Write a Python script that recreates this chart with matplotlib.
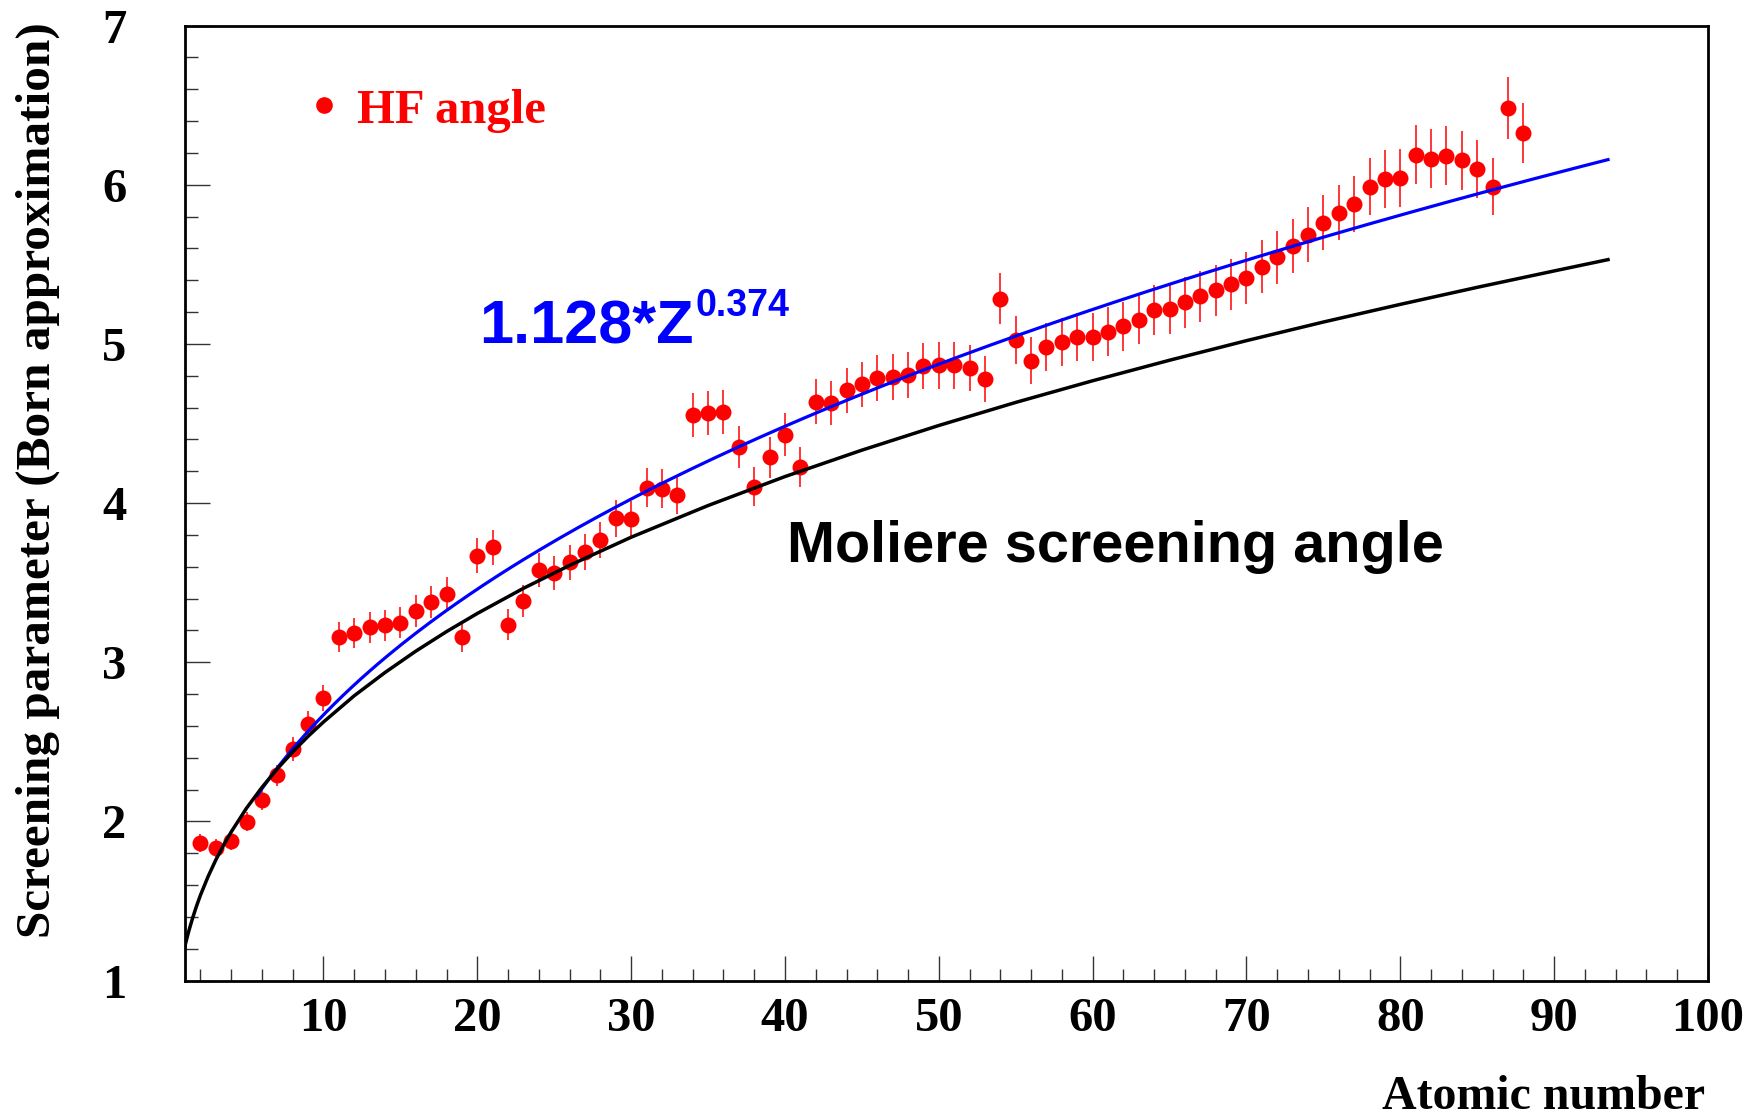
import numpy as np
import matplotlib
matplotlib.use('Agg')
import matplotlib.pyplot as plt
from matplotlib.ticker import MultipleLocator

W, H = 1759, 1120

# HF screening parameter vs atomic number
z = np.arange(1, 89)
hf = [1.10, 1.862, 1.831, 1.879, 1.998, 2.135, 2.288, 2.454, 2.613, 2.775,
      3.160, 3.182, 3.218, 3.231, 3.249, 3.320, 3.376, 3.430, 3.160, 3.668,
      3.721, 3.234, 3.384, 3.578, 3.559, 3.628, 3.692, 3.770, 3.903, 3.897,
      4.097, 4.090, 4.052, 4.553, 4.564, 4.572, 4.351, 4.103, 4.288, 4.430,
      4.228, 4.637, 4.629, 4.709, 4.746, 4.786, 4.792, 4.807, 4.862, 4.864,
      4.864, 4.847, 4.778, 5.284, 5.027, 4.895, 4.981, 5.013, 5.044, 5.044,
      5.076, 5.111, 5.152, 5.211, 5.216, 5.260, 5.298, 5.336, 5.374, 5.415,
      5.485, 5.544, 5.615, 5.686, 5.760, 5.824, 5.879, 5.988, 6.036, 6.043,
      6.187, 6.162, 6.183, 6.152, 6.098, 5.988, 6.481, 6.326]
rel_err = 0.03

# Moliere screening curve
mol_z = [1.0, 1.1, 1.25, 1.5, 1.75, 2, 2.5, 3, 3.5, 4, 5, 6, 7, 8, 9, 10, 12,
         14, 16, 18, 20, 23, 26, 30, 35, 40, 45, 50, 55, 60, 65, 70, 75, 80,
         85, 90, 93.5]
mol_v = [1.218, 1.257, 1.312, 1.394, 1.468, 1.535, 1.653, 1.757, 1.849, 1.933,
         2.083, 2.213, 2.330, 2.436, 2.534, 2.624, 2.789, 2.935, 3.069, 3.192,
         3.306, 3.464, 3.608, 3.785, 3.984, 4.166, 4.332, 4.487, 4.632, 4.768,
         4.897, 5.020, 5.137, 5.248, 5.355, 5.458, 5.529]

# fitted power law shown on the chart
fit_a, fit_b = 1.128, 0.374
fit_range = (5.7, 93.5)

serif = ['Liberation Serif', 'DejaVu Serif']
sans = ['Liberation Sans', 'DejaVu Sans']

hf = np.array(hf)
err = hf * rel_err

fig = plt.figure(figsize=(W / 100, H / 100), dpi=100)
ax = fig.add_axes([185 / W, 1 - 980.5 / H, (1708 - 185) / W, (980.5 - 25.5) / H])

ax.errorbar(z, hf, yerr=err, fmt='none', ecolor='red', elinewidth=1.1,
            capsize=0, zorder=2)
m = z > 1
ax.plot(z[m], hf[m], 'o', color='red', ms=11.5, mew=0, zorder=3)

zf = np.linspace(fit_range[0], fit_range[1], 300)
ax.plot(zf, fit_a * zf ** fit_b, color='blue', lw=2.3, zorder=4)
ax.plot(mol_z, mol_v, color='black', lw=2.5, zorder=5)

ax.set_xlim(1, 100)
ax.set_ylim(1, 7)
ax.xaxis.set_major_locator(MultipleLocator(10))
ax.xaxis.set_minor_locator(MultipleLocator(2))
ax.yaxis.set_major_locator(MultipleLocator(1))
ax.yaxis.set_minor_locator(MultipleLocator(0.2))
ax.tick_params(which='both', direction='in', top=False, right=False,
               width=1.0, color='#333333')
ax.tick_params(which='major', length=18)
ax.tick_params(which='minor', length=9)
ax.tick_params(axis='x', which='major', pad=12)
ax.tick_params(axis='y', which='major', pad=42)
for lab in ax.get_xticklabels() + ax.get_yticklabels():
    lab.set_family(serif)
    lab.set_fontweight('bold')
    lab.set_fontsize(35)
for s in ax.spines.values():
    s.set_linewidth(2.0)


def px(x, y):
    return x / W, 1 - y / H


fig.text(*px(1705, 1109), 'Atomic number', ha='right', va='baseline',
         family=serif, weight='bold', fontsize=34.5)
fig.text(*px(38, 22), 'Screening parameter (Born approximation)', rotation=90,
         ha='center', va='top', family=serif, weight='bold', fontsize=35.5)

ax.plot(*px(324, 105), 'o', color='red', ms=12, mew=0,
        transform=fig.transFigure, clip_on=False)
fig.text(*px(357, 123), 'HF angle', ha='left', va='baseline', color='red',
         family=serif, weight='bold', fontsize=35)

main = fig.text(*px(479, 344), '1.128*Z', ha='left', va='baseline', color='blue',
                family=sans, weight='bold', fontsize=44)
bb = main.get_window_extent(fig.canvas.get_renderer())
fig.text(bb.x1 / W + 2 / W, 1 - 316 / H, '0.374', ha='left', va='baseline',
         color='blue', family=sans, weight='bold', fontsize=27)
fig.text(*px(787, 562), 'Moliere screening angle', ha='left', va='baseline',
         color='black', family=sans, weight='bold', fontsize=41.5)

fig.savefig('out.png', dpi=100)
